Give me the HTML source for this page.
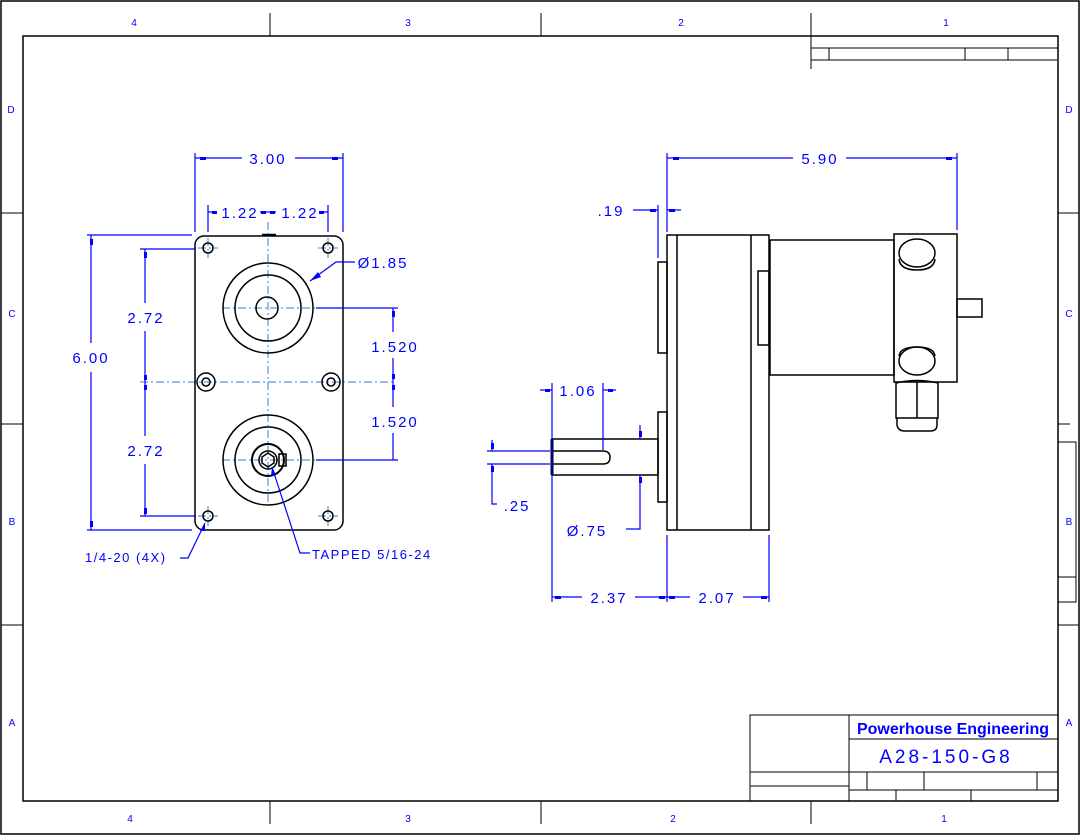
<!DOCTYPE html>
<html><head><meta charset="utf-8"><style>
html,body{margin:0;padding:0;background:#fff;}
svg{display:block;}
text{font-family:"Liberation Sans",sans-serif;fill:#0000ff;}
.k{stroke:#000;fill:none;stroke-width:1.5;}
.kt{stroke:#000;fill:none;stroke-width:1;}
.b{stroke:#0000ff;fill:none;stroke-width:1.2;}
.c{stroke:#3a7fd0;fill:none;stroke-width:1;stroke-dasharray:8,3,2,3;}
.d{font-size:15px;letter-spacing:2px;text-anchor:middle;}
.z{font-size:10px;text-anchor:middle;}
</style></head><body>
<svg width="1081" height="836" viewBox="0 0 1081 836" xmlns="http://www.w3.org/2000/svg">
<rect x="1" y="1" width="1078" height="833" class="k"/>
<rect x="23" y="36" width="1035" height="765" class="k"/>
<g class="kt">
<line x1="270" y1="13" x2="270" y2="36"/><line x1="541" y1="13" x2="541" y2="36"/><line x1="811" y1="13" x2="811" y2="69"/>
<line x1="270" y1="801" x2="270" y2="824"/><line x1="541" y1="801" x2="541" y2="824"/><line x1="811" y1="801" x2="811" y2="824"/>
<line x1="1" y1="213" x2="23" y2="213"/><line x1="1" y1="424" x2="23" y2="424"/><line x1="1" y1="625" x2="23" y2="625"/>
<line x1="1058" y1="213" x2="1079" y2="213"/><line x1="1058" y1="424" x2="1070" y2="424"/><line x1="1058" y1="625" x2="1079" y2="625"/>
<line x1="800" y1="36" x2="811" y2="36"/>
<line x1="811" y1="48" x2="1058" y2="48"/><line x1="811" y1="60" x2="1057" y2="60"/>
<line x1="829" y1="48" x2="829" y2="60"/><line x1="965" y1="48" x2="965" y2="60"/><line x1="1008" y1="48" x2="1008" y2="60"/>
<rect x="1058" y="442" width="18" height="160"/><line x1="1058" y1="577" x2="1076" y2="577"/>
<rect x="750" y="715" width="308" height="86"/>
<line x1="849" y1="715" x2="849" y2="801"/>
<line x1="849" y1="739" x2="1058" y2="739"/>
<line x1="750" y1="772" x2="1058" y2="772"/>
<line x1="750" y1="786" x2="849" y2="786"/>
<line x1="849" y1="790" x2="1058" y2="790"/>
<line x1="867" y1="772" x2="867" y2="790"/><line x1="924" y1="772" x2="924" y2="790"/><line x1="1037" y1="772" x2="1037" y2="790"/>
<line x1="896" y1="790" x2="896" y2="801"/><line x1="971" y1="790" x2="971" y2="801"/>
</g>
<text x="953" y="734" style="font-size:16px;font-weight:bold;text-anchor:middle">Powerhouse Engineering</text>
<text x="946" y="763" style="font-size:19px;letter-spacing:3px;text-anchor:middle">A28-150-G8</text>
<g class="z">
<text x="134" y="26">4</text><text x="408" y="26">3</text><text x="681" y="26">2</text><text x="946" y="26">1</text>
<text x="130" y="822">4</text><text x="408" y="822">3</text><text x="673" y="822">2</text><text x="944" y="822">1</text>
<text x="11" y="113">D</text><text x="12" y="317">C</text><text x="12" y="525">B</text><text x="12" y="726">A</text>
<text x="1069" y="113">D</text><text x="1069" y="317">C</text><text x="1069" y="525">B</text><text x="1069" y="726">A</text>
</g>

<g class="c">
<line x1="268" y1="222" x2="268" y2="505"/>
<line x1="222" y1="308" x2="318" y2="308"/>
<line x1="140" y1="382" x2="395" y2="382"/>
<line x1="222" y1="460" x2="318" y2="460"/>
<line x1="198" y1="248" x2="218" y2="248"/><line x1="208" y1="238" x2="208" y2="258"/>
<line x1="318" y1="248" x2="338" y2="248"/><line x1="328" y1="238" x2="328" y2="258"/>
<line x1="198" y1="516" x2="218" y2="516"/><line x1="208" y1="506" x2="208" y2="526"/>
<line x1="318" y1="516" x2="338" y2="516"/><line x1="328" y1="506" x2="328" y2="526"/>
</g>
<g class="k">
<rect x="195" y="236" width="148" height="294" rx="9"/>
<line x1="262" y1="235" x2="276" y2="235" stroke-width="2.5"/>
<circle cx="268" cy="308" r="45"/><circle cx="268" cy="308" r="33"/><circle cx="267" cy="308" r="11"/>
<circle cx="268" cy="460" r="45"/><circle cx="268" cy="460" r="33"/><circle cx="268" cy="460" r="16" stroke-width="2"/><circle cx="268" cy="460" r="9"/>
<path d="M268 453 L274 457 L274 463 L268 467 L262 463 L262 457 Z"/>
<rect x="279" y="454" width="7" height="12"/>
<circle cx="208" cy="248" r="5"/><circle cx="328" cy="248" r="5"/><circle cx="208" cy="516" r="5"/><circle cx="328" cy="516" r="5"/>
<circle cx="206" cy="382" r="9"/><circle cx="206" cy="382" r="4"/><circle cx="331" cy="382" r="9"/><circle cx="331" cy="382" r="4"/>
</g>

<g class="b">
<line x1="195" y1="153" x2="195" y2="232"/><line x1="343" y1="153" x2="343" y2="232"/>
<line x1="195" y1="158" x2="242" y2="158"/><line x1="295" y1="158" x2="343" y2="158"/>
<line x1="208" y1="205" x2="208" y2="232"/><line x1="328" y1="205" x2="328" y2="232"/>
<line x1="208" y1="212" x2="216" y2="212"/><line x1="260" y1="212" x2="276" y2="212"/><line x1="320" y1="212" x2="328" y2="212"/>
<line x1="87" y1="235" x2="192" y2="235"/><line x1="87" y1="530" x2="192" y2="530"/>
<line x1="91" y1="235" x2="91" y2="343"/><line x1="91" y1="372" x2="91" y2="530"/>
<line x1="140" y1="249" x2="196" y2="249"/><line x1="140" y1="516" x2="196" y2="516"/>
<line x1="145" y1="249" x2="145" y2="303"/><line x1="145" y1="331" x2="145" y2="436"/><line x1="145" y1="464" x2="145" y2="516"/>
<line x1="316" y1="308" x2="398" y2="308"/><line x1="316" y1="460" x2="398" y2="460"/>
<line x1="393" y1="308" x2="393" y2="332"/><line x1="393" y1="358" x2="393" y2="407"/><line x1="393" y1="433" x2="393" y2="460"/>
<polyline points="355,262 336,262 310,281"/>
<polyline points="180,558 188,558 205,523"/>
<polyline points="310,553 300,553 272,467"/>
</g>
<g fill="#0000ff">
<rect x="200" y="157" width="6" height="3"/><rect x="332" y="157" width="6" height="3"/>
<rect x="212" y="211" width="5" height="3"/><rect x="261" y="211" width="5" height="3"/><rect x="270" y="211" width="5" height="3"/><rect x="319" y="211" width="5" height="3"/>
<rect x="90" y="239" width="3" height="6"/><rect x="90" y="521" width="3" height="6"/>
<rect x="144" y="252" width="3" height="6"/><rect x="144" y="375" width="3" height="5"/><rect x="144" y="385" width="3" height="5"/><rect x="144" y="508" width="3" height="6"/>
<rect x="392" y="311" width="3" height="6"/><rect x="392" y="374" width="3" height="5"/><rect x="392" y="385" width="3" height="5"/>
<polygon points="310,281 318,272 321,277"/>
<polygon points="205,523 200,531 205,531"/>
<polygon points="272,467 271,476 276,475"/>
</g>
<g class="d">
<text x="268" y="164">3.00</text>
<text x="240" y="218">1.22</text><text x="300" y="218">1.22</text>
<text x="91" y="363">6.00</text>
<text x="146" y="323">2.72</text><text x="146" y="456">2.72</text>
<text x="395" y="352">1.520</text><text x="395" y="427">1.520</text>
<text x="383" y="268">Ø1.85</text>
</g>
<text x="85" y="562" style="font-size:13px;letter-spacing:1.5px">1/4-20 (4X)</text>
<text x="312" y="559" style="font-size:13px;letter-spacing:1.5px">TAPPED 5/16-24</text>

<g class="k">
<rect x="667" y="235" width="102" height="295"/>
<line x1="677" y1="235" x2="677" y2="530"/><line x1="751" y1="235" x2="751" y2="530"/>
<rect x="658" y="262" width="9" height="91"/><rect x="658" y="412" width="9" height="90"/>
<rect x="758" y="271" width="11" height="74"/>
<rect x="770" y="240" width="124" height="135"/>
<rect x="894" y="234" width="63" height="148"/>
<rect x="957" y="299" width="25" height="18"/>
<ellipse cx="917" cy="253" rx="18" ry="14"/><path d="M899 259 Q900 270 917 270 Q934 270 935 259"/>
<ellipse cx="917" cy="361" rx="18" ry="14"/><path d="M899 356 Q900 347 917 347 Q934 347 935 356"/>
<path d="M896 383 Q917 378 938 383 L938 418 L896 418 Z"/>
<line x1="917" y1="380" x2="917" y2="418"/>
<path d="M897 418 L897 425 Q898 431 905 431 L930 431 Q937 431 937 425 L937 418"/>
<rect x="552" y="439" width="106" height="36"/>
<line x1="552" y1="451" x2="603" y2="451"/><line x1="552" y1="464" x2="603" y2="464"/>
<path d="M603 451 Q610 451 610 457.5 Q610 464 603 464"/>
<line x1="552" y1="439" x2="552" y2="475" stroke-width="3"/>
</g>
<g class="b">
<line x1="667" y1="153" x2="667" y2="232"/><line x1="957" y1="153" x2="957" y2="230"/>
<line x1="667" y1="158" x2="793" y2="158"/><line x1="846" y1="158" x2="957" y2="158"/>
<line x1="658" y1="205" x2="658" y2="258"/>
<line x1="633" y1="210" x2="658" y2="210"/><line x1="667" y1="210" x2="681" y2="210"/>
<line x1="552" y1="383" x2="552" y2="602"/><line x1="603" y1="383" x2="603" y2="450"/>
<line x1="540" y1="390" x2="552" y2="390"/><line x1="603" y1="390" x2="616" y2="390"/>
<line x1="487" y1="451" x2="550" y2="451"/><line x1="487" y1="464" x2="550" y2="464"/>
<line x1="492" y1="440" x2="492" y2="451"/><polyline points="492,464 492,504 497,504"/>
<line x1="640" y1="425" x2="640" y2="439"/><polyline points="640,475 640,529 626,529"/>
<line x1="667" y1="535" x2="667" y2="602"/><line x1="769" y1="535" x2="769" y2="602"/>
<line x1="552" y1="597" x2="582" y2="597"/><line x1="635" y1="597" x2="667" y2="597"/>
<line x1="667" y1="597" x2="690" y2="597"/><line x1="743" y1="597" x2="769" y2="597"/>
</g>
<g fill="#0000ff">
<rect x="673" y="157" width="6" height="3"/><rect x="946" y="157" width="6" height="3"/>
<rect x="650" y="209" width="6" height="3"/><rect x="669" y="209" width="6" height="3"/>
<rect x="545" y="389" width="5" height="3"/><rect x="608" y="389" width="5" height="3"/>
<rect x="491" y="443" width="3" height="6"/><rect x="491" y="466" width="3" height="6"/>
<rect x="639" y="431" width="3" height="6"/><rect x="639" y="477" width="3" height="6"/>
<rect x="555" y="596" width="6" height="3"/><rect x="659" y="596" width="6" height="3"/>
<rect x="669" y="596" width="6" height="3"/><rect x="761" y="596" width="6" height="3"/>
</g>
<g class="d">
<text x="820" y="164">5.90</text>
<text x="611" y="216">.19</text>
<text x="578" y="396">1.06</text>
<text x="517" y="511">.25</text>
<text x="587" y="536">Ø.75</text>
<text x="609" y="603">2.37</text>
<text x="717" y="603">2.07</text>
</g>
</svg>
</body></html>
